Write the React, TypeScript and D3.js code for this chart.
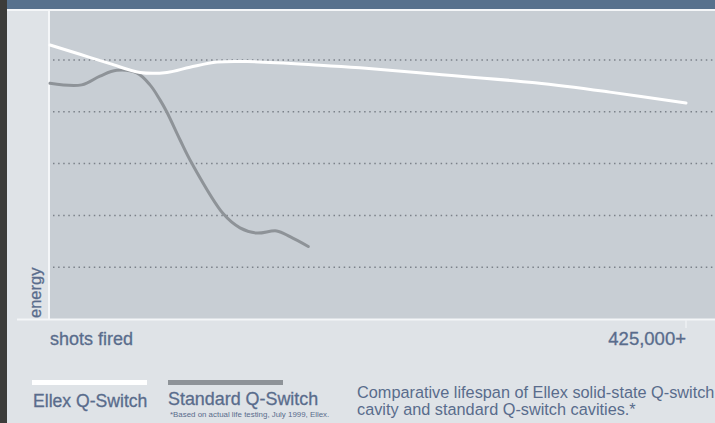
import React from "react";
import * as d3 from "d3";

const ellexShots = [0, 20050, 40090, 60140, 78180, 93550, 111600, 131640, 180430, 207160, 248580, 324100, 374210, 425000];
const ellexEnergy = [5.29, 5.11, 4.93, 4.76, 4.76, 4.86, 4.96, 4.97, 4.9, 4.85, 4.75, 4.56, 4.38, 4.17];

const stdShots = [0, 21180, 33410, 44570, 57940, 66820, 73510, 77980, 86870, 94690, 115810, 126970, 138130, 151490, 160380, 172600];
const stdEnergy = [4.55, 4.52, 4.69, 4.8, 4.75, 4.52, 4.23, 4.0, 3.46, 3.01, 2.03, 1.76, 1.66, 1.7, 1.59, 1.4];

const gridLevels = [1, 2, 3, 4, 5];
const xEndLabel = "425,000+";

const W = 715;
const H = 423;
const FONT = "'Liberation Sans', Arial, Helvetica, sans-serif";
const TXT = "#596c8c";

export default function App() {
  const x = d3.scaleLinear().domain([0, 425000]).range([50, 686]);
  const y = d3.scaleLinear().domain([0, 5]).range([319, 60]);

  const line = d3
    .line<[number, number]>()
    .x((d) => x(d[0]))
    .y((d) => y(d[1]))
    .curve(d3.curveCatmullRom.alpha(0.5));

  const ellex = line(ellexShots.map((s, i) => [s, ellexEnergy[i]] as [number, number])) || "";
  const std = line(stdShots.map((s, i) => [s, stdEnergy[i]] as [number, number])) || "";

  const heavy = { stroke: TXT, strokeWidth: 0.3 };

  return (
    <svg
      width={W}
      height={H}
      style={{ position: "fixed", left: 0, top: 0, display: "block" }}
      fontFamily={FONT}
    >
      <rect x={0} y={0} width={W} height={H} fill="#dfe3e7" />
      <rect x={0} y={0} width={W} height={9} fill="#57718d" />
      <rect x={0} y={9} width={W} height={2} fill="#f4f6f8" />
      <rect x={0} y={0} width={7} height={H} fill="#3c3c3a" />
      <rect x={50} y={11} width={W - 50} height={308} fill="#c8ced4" />
      {gridLevels.map((g) => (
        <line
          key={g}
          x1={53}
          x2={W}
          y1={y(g)}
          y2={y(g)}
          stroke="#7b8189"
          strokeWidth={1.5}
          strokeDasharray="1.5 3.6"
        />
      ))}
      <line x1={49} x2={49} y1={11} y2={320} stroke="#f4f6f8" strokeWidth={2} />
      <line x1={17} x2={W} y1={319.5} y2={319.5} stroke="#f4f6f8" strokeWidth={2} />
      <line x1={686} x2={686} y1={320} y2={328} stroke="#eef1f3" strokeWidth={1.5} />

      <path d={std} fill="none" stroke="#8e9398" strokeWidth={3} strokeLinecap="round" />
      <path d={ellex} fill="none" stroke="#ffffff" strokeWidth={3} strokeLinecap="round" />

      <text transform="translate(41,318) rotate(-90)" fontSize={16.5} fill={TXT} {...heavy}>
        energy
      </text>
      <text x={50} y={345} fontSize={18} fill={TXT} {...heavy}>
        shots fired
      </text>
      <text x={686} y={345} fontSize={18.5} fill={TXT} textAnchor="end" {...heavy}>
        {xEndLabel}
      </text>

      <rect x={32} y={380} width={115} height={5} fill="#ffffff" />
      <rect x={168} y={380} width={115} height={5} fill="#8e9398" />
      <text x={33} y={407} fontSize={17.6} fill={TXT} {...heavy}>
        Ellex Q-Switch
      </text>
      <text x={168} y={405} fontSize={17.9} fill={TXT} {...heavy}>
        Standard Q-Switch
      </text>
      <text x={170} y={417} fontSize={7.9} fill={TXT}>
        *Based on actual life testing, July 1999, Ellex.
      </text>
      <text x={357} y={398} fontSize={16.3} fill={TXT}>
        Comparative lifespan of Ellex solid-state Q-switch
      </text>
      <text x={357} y={415} fontSize={16.3} fill={TXT}>
        cavity and standard Q-switch cavities.*
      </text>
    </svg>
  );
}
